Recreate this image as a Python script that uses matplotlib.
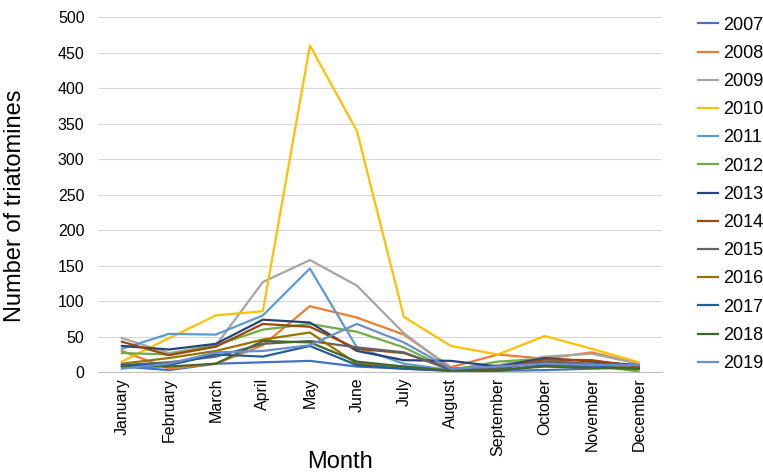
import matplotlib
matplotlib.use('Agg')
import matplotlib.pyplot as plt
import numpy as np

months=['January','February','March','April','May','June','July','August',
        'September','October','November','December']
years=['2007','2008','2009','2010','2011','2012','2013','2014','2015','2016','2017','2018','2019']
colors=['#4472C4','#ED7D31','#A5A5A5','#FFC000','#5B9BD5','#70AD47','#264478',
        '#9E480E','#636363','#997300','#255E91','#43682B','#698ED0']

y2007=[8,3,12,14,16,8,5,2,2,3,5,8]
y2008=[30,5,12,38,93,77,53,7,25,19,28,12]
y2009=[48,27,38,127,158,122,55,5,10,22,26,12]
y2010=[15,48,80,86,460,340,78,37,25,51,33,14]
y2011=[33,54,53,80,146,35,12,3,5,15,10,8]
y2012=[27,25,38,60,68,57,35,3,15,19,10,1]
y2013=[37,32,40,74,70,30,17,16,8,20,15,10]
y2014=[43,24,36,68,64,33,27,5,5,18,17,8]
y2015=[10,14,22,40,44,35,28,3,5,15,12,10]
y2016=[12,20,30,46,56,12,8,2,2,10,12,5]
y2017=[10,10,25,22,37,10,5,2,2,10,8,5]
y2018=[8,8,12,44,42,15,8,2,3,8,6,5]
y2019=[5,12,28,30,38,68,42,5,8,12,10,10]
series=[y2007,y2008,y2009,y2010,y2011,y2012,y2013,y2014,y2015,y2016,y2017,y2018,y2019]

plt.rcParams['font.family']=['Liberation Sans','DejaVu Sans']

fig=plt.figure(figsize=(7.63,4.76),dpi=100)
ax=fig.add_axes([0.129,0.218,0.739,0.746])
x=np.arange(len(months))
for ys,c,lab in zip(series,colors,years):
    ax.plot(x,ys,color=c,lw=1.6,label=lab)

ax.set_xlim(-0.5,len(months)-0.5)
ax.set_ylim(0,500)
ax.set_yticks(np.arange(0,501,50))
ax.set_xticks(x)
ax.set_xticklabels(months,rotation=90,fontsize=11.5)
ax.tick_params(axis='y',labelsize=11.5,length=0,pad=10)
ax.tick_params(axis='x',length=0,pad=4)
ax.grid(axis='y',color='#d9d9d9',lw=0.8)
ax.set_axisbelow(True)
for s in ['top','right','left']:
    ax.spines[s].set_visible(False)
ax.spines['bottom'].set_color('#bfbfbf')
ax.set_xlabel('Month',fontsize=17,va='center')
ax.xaxis.set_label_coords(0.428,-0.253)
ax.set_ylabel('Number of triatomines',fontsize=17,va='center')
ax.yaxis.set_label_coords(-0.148,0.47)

ax.legend(loc='upper left',bbox_to_anchor=(1.035,1.047),frameon=False,fontsize=13,
          handlelength=1.1,handletextpad=0.25,labelspacing=0.62)

fig.savefig('out.png',dpi=100)
